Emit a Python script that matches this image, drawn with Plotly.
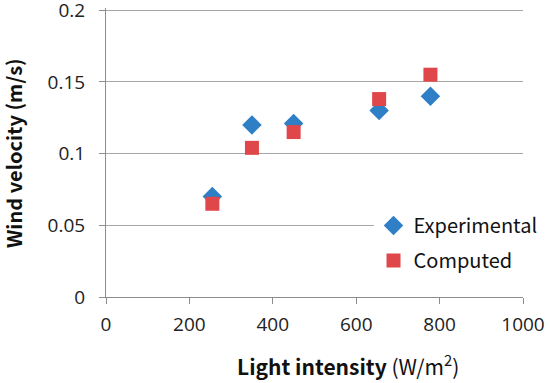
import plotly.graph_objects as go

light = [255, 350, 450, 655, 778]
experimental = [0.070, 0.120, 0.121, 0.130, 0.140]
computed = [0.065, 0.104, 0.115, 0.138, 0.155]

x_ticks = [0, 200, 400, 600, 800, 1000]
y_ticks = [0, 0.05, 0.1, 0.15, 0.2]
y_ticklabels = ["0", "0.05", "0.1", "0.15", "0.2"]

blue = "#2E7FC6"
red = "#E0474A"
tick_font = dict(family="Open Sans, DejaVu Sans", size=19, color="#222222")
title_font = "Noto Sans CJK JP"

fig = go.Figure()
fig.add_trace(go.Scatter(x=light, y=experimental, mode="markers", name="Experimental",
                         legendgroup="a",
                         marker=dict(symbol="diamond", size=15, color=blue)))
fig.add_trace(go.Scatter(x=light, y=computed, mode="markers", name="Computed",
                         legendgroup="b",
                         marker=dict(symbol="square", size=14, color=red)))

fig.update_layout(
    width=550, height=383,
    margin=dict(l=106, r=26, t=8, b=86),
    paper_bgcolor="white", plot_bgcolor="white",
    showlegend=True,
    legend=dict(x=0.64, y=0.315, xanchor="left", yanchor="top",
                bgcolor="white", traceorder="grouped", tracegroupgap=6,
                font=dict(family=title_font, size=20, color="#111111")),
    xaxis=dict(range=[0, 1000], tickvals=x_ticks, showgrid=False,
               showline=True, linecolor="#8c8c8c", linewidth=1,
               ticks="outside", ticklen=6, tickcolor="#8c8c8c",
               ticklabelstandoff=4, automargin=False,
               tickfont=tick_font, zeroline=False),
    yaxis=dict(range=[0, 0.2015], tickvals=y_ticks, ticktext=y_ticklabels,
               showgrid=True, gridcolor="#a6a6a6", gridwidth=1,
               showline=True, linecolor="#8c8c8c", linewidth=1,
               ticks="outside", ticklen=6, tickcolor="#8c8c8c",
               ticklabelstandoff=10, ticklabeloverflow="allow",
               automargin=False,
               tickfont=tick_font, zeroline=False),
    annotations=[
        dict(text="<b>Light intensity</b> (W/m<sup>2</sup>)", xref="paper", yref="paper",
             x=0.58, y=-0.237, xanchor="center", yanchor="middle", showarrow=False,
             font=dict(family=title_font, size=21, color="#111111")),
        dict(text="<b>Wind velocity (m/s)</b>", xref="paper", yref="paper",
             x=-0.222, y=0.5, xanchor="center", yanchor="middle", textangle=-90,
             showarrow=False,
             font=dict(family=title_font, size=20, color="#111111")),
    ],
)

fig.write_html("out.html", config={"displayModeBar": False},
               post_script="document.body.style.margin='0';")
